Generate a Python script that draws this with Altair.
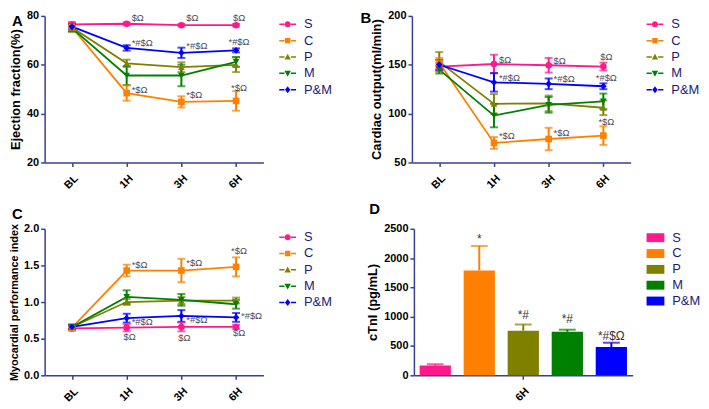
import altair as alt
import pandas as pd

groups = ["S", "C", "P", "M", "P&M"]
times = ["BL", "1H", "3H", "6H"]
colors = ["#ff1a8c", "#ff8000", "#808000", "#008000", "#0000ff"]
marker_shapes = ["circle", "square", "triangle-up", "triangle-down", "diamond"]

# ---- Panel A: Ejection fraction (%) ----
ef_mean = {
    "S": [76.5, 76.8, 76.2, 76.2],
    "C": [75.3, 48.4, 44.8, 45.2],
    "P": [75.3, 60.6, 59.0, 60.0],
    "M": [75.0, 55.6, 55.6, 61.2],
    "P&M": [75.6, 66.9, 64.9, 65.9],
}
ef_sem = {
    "S": [1.0, 0.6, 0.5, 0.5],
    "C": [1.5, 3.1, 2.3, 4.0],
    "P": [1.5, 1.5, 2.0, 3.0],
    "M": [1.5, 3.9, 4.4, 2.0],
    "P&M": [1.0, 1.1, 2.1, 0.8],
}
ef_ann_time = ["1H", "3H", "6H", "1H", "3H", "6H", "1H", "3H", "6H"]
ef_ann_y = [79.2, 79.2, 79.2, 68.8, 67.6, 69.2, 49.6, 47.6, 50.4]
ef_ann_text = ["$Ω", "$Ω", "$Ω", "*#$Ω", "*#$Ω", "*#$Ω", "*$Ω", "*$Ω", "*$Ω"]
ef_ann_pos = ["r", "r", "c", "r", "r", "c", "r", "r", "c"]

# ---- Panel B: Cardiac output (ml/min) ----
co_mean = {
    "S": [148.0, 150.8, 149.5, 148.2],
    "C": [152.0, 70.0, 74.0, 77.5],
    "P": [153.0, 110.0, 110.5, 106.0],
    "M": [145.0, 98.0, 109.0, 112.5],
    "P&M": [150.0, 132.0, 130.5, 128.0],
}
co_sem = {
    "S": [4.0, 9.5, 7.5, 4.0],
    "C": [5.0, 6.0, 11.5, 9.5],
    "P": [10.0, 10.0, 8.0, 7.5],
    "M": [4.0, 12.0, 8.0, 8.0],
    "P&M": [5.0, 9.5, 5.5, 3.0],
}
co_ann_time = ["1H", "3H", "6H", "1H", "3H", "6H", "1H", "3H", "6H"]
co_ann_y = [155.0, 154.0, 157.7, 136.0, 135.0, 136.3, 77.3, 80.0, 91.7]
co_ann_text = ["$Ω", "$Ω", "$Ω", "*#$Ω", "*#$Ω", "*#$Ω", "*$Ω", "*$Ω", "*$Ω"]
co_ann_pos = ["r", "r", "c", "r", "r", "c", "r", "r", "c"]

# ---- Panel C: Myocardial performance index ----
mpi_mean = {
    "S": [0.64, 0.65, 0.66, 0.66],
    "C": [0.65, 1.43, 1.43, 1.48],
    "P": [0.66, 1.00, 1.02, 1.02],
    "M": [0.66, 1.07, 1.03, 0.97],
    "P&M": [0.66, 0.78, 0.81, 0.79],
}
mpi_sem = {
    "S": [0.03, 0.05, 0.06, 0.03],
    "C": [0.03, 0.08, 0.16, 0.13],
    "P": [0.03, 0.04, 0.05, 0.04],
    "M": [0.03, 0.09, 0.08, 0.06],
    "P&M": [0.03, 0.06, 0.08, 0.06],
}
mpi_ann_time = ["1H", "3H", "6H", "1H", "3H", "6H", "1H", "3H", "6H"]
mpi_ann_y = [1.51, 1.53, 1.69, 0.724, 0.756, 0.813, 0.52, 0.51, 0.578]
mpi_ann_text = ["*$Ω", "*$Ω", "*$Ω", "*#$Ω", "*#$Ω", "*#$Ω", "$Ω", "$Ω", "$Ω"]
mpi_ann_pos = ["r", "r", "c", "r", "r", "r", "c", "c", "c"]

# ---- Panel D: cTnI (pg/mL) at 6H ----
ctni_mean = [167, 1789, 761, 744, 483]
ctni_sem = [22, 417, 106, 34, 73]
ctni_ann_group = ["C", "P", "M", "P&M"]
ctni_ann_y = [2333, 1022, 955, 678]
ctni_ann_text = ["*", "*#", "*#", "*#$Ω"]

AX = "#3a3f96"
LEG_TXT = "#1a1a7a"
ANN = "#4a4a5a"

# legend symbols: short line with the marker in the middle
_ll = "M-1,-0.09H-0.38V0.09H-1Z M0.38,-0.09H1V0.09H0.38Z "
legend_paths = [
    _ll + "M0.36,0A0.36,0.36 0 1,1 -0.36,0A0.36,0.36 0 1,1 0.36,0Z",
    _ll + "M-0.32,-0.32H0.32V0.32H-0.32Z",
    _ll + "M0,-0.4L0.38,0.3H-0.38Z",
    _ll + "M0,0.4L0.38,-0.3H-0.38Z",
    _ll + "M0,-0.42L0.32,0L0,0.42L-0.32,0Z",
]

W, H = 221, 148


def line_legend():
    return alt.Legend(title=None, orient="right", offset=16, symbolSize=289,
                      symbolStrokeWidth=0, labelFontSize=13, labelColor=LEG_TXT,
                      labelFont="Arial", labelOffset=8, rowPadding=0.5, padding=0)


def line_panel(mean, sem, a_time, a_y, a_text, a_pos, ytitle, ydom, yvals, yfmt,
               letter, title_size, lx, ly):
    rows = [dict(group=g, time=t, mean=mean[g][i], sem=sem[g][i])
            for g in groups for i, t in enumerate(times)]
    df = pd.DataFrame(rows)
    ann = pd.DataFrame({"time": a_time, "y": a_y, "text": a_text, "pos": a_pos})

    x = alt.X("time:N", sort=times, title=None,
              scale=alt.Scale(type="point", padding=0.5),
              axis=alt.Axis(labelAngle=-45, labelPadding=6))

    def Y(f):
        return alt.Y(f + ":Q", title=ytitle,
                     scale=alt.Scale(domain=ydom, nice=False, zero=False),
                     axis=alt.Axis(values=yvals, format=yfmt, titleFontSize=title_size))

    col = alt.Color("group:N", scale=alt.Scale(domain=groups, range=colors), legend=None)
    base = alt.Chart(df)
    err = base.transform_calculate(lo="datum.mean - datum.sem", hi="datum.mean + datum.sem")

    lines = base.mark_line(strokeWidth=1.8).encode(x=x, y=Y("mean"), color=col)
    rules = err.mark_rule(strokeWidth=2).encode(x=x, y=Y("lo"), y2="hi:Q", color=col)
    cap_lo = err.mark_tick(size=8, thickness=2).encode(x=x, y=Y("lo"), color=col)
    cap_hi = err.mark_tick(size=8, thickness=2).encode(x=x, y=Y("hi"), color=col)
    pts = base.mark_point(filled=True, size=45, opacity=1).encode(
        x=x, y=Y("mean"), color=col,
        shape=alt.Shape("group:N", scale=alt.Scale(domain=groups, range=marker_shapes), legend=None))
    ann_base = alt.Chart(ann)
    txt_r = ann_base.transform_filter("datum.pos == 'r'").mark_text(
        align="left", baseline="middle", dx=5, fontSize=9.5, color=ANN, font="Arial").encode(
        x=x, y=Y("y"), text="text:N")
    txt_c = ann_base.transform_filter("datum.pos == 'c'").mark_text(
        align="center", baseline="middle", dx=3, fontSize=9.5, color=ANN, font="Arial").encode(
        x=x, y=Y("y"), text="text:N")
    leg = base.transform_filter("false").mark_point(filled=True, opacity=1).encode(
        x=x, y=Y("mean"),
        color=alt.Color("group:N", scale=alt.Scale(domain=groups, range=colors), legend=line_legend()),
        shape=alt.Shape("group:N", scale=alt.Scale(domain=groups, range=legend_paths), legend=line_legend()))
    lab = alt.Chart(pd.DataFrame({"t": [letter]})).mark_text(
        align="left", baseline="top", fontSize=15, fontWeight="bold", font="Arial", color="black").encode(
        text="t:N", x=alt.value(lx), y=alt.value(ly))
    return alt.layer(lines, rules, cap_lo, cap_hi, pts, txt_r, txt_c, leg, lab).resolve_scale(
        color="independent", shape="independent").properties(width=W, height=H)


pA = line_panel(ef_mean, ef_sem, ef_ann_time, ef_ann_y, ef_ann_text, ef_ann_pos,
                "Ejection fraction(%)", [20, 80], [20, 40, 60, 80], "d", "A", 13, -33, -2)
pB = line_panel(co_mean, co_sem, co_ann_time, co_ann_y, co_ann_text, co_ann_pos,
                "Cardiac output(ml/min)", [50, 200], [50, 100, 150, 200], "d", "B", 13, -52, -5)
pC = line_panel(mpi_mean, mpi_sem, mpi_ann_time, mpi_ann_y, mpi_ann_text, mpi_ann_pos,
                "Myocardial performance index", [0, 2], [0, 0.5, 1.0, 1.5, 2.0], ".1f", "C", 11, -33, -22)

# ---- Panel D ----
d_df = pd.DataFrame({"group": groups, "time": ["6H"] * 5, "mean": ctni_mean, "sem": ctni_sem})
d_ann = pd.DataFrame({"group": ctni_ann_group, "time": ["6H"] * 4, "y": ctni_ann_y, "text": ctni_ann_text})
dx_enc = alt.X("time:N", title=None, scale=alt.Scale(paddingInner=0, paddingOuter=0),
               axis=alt.Axis(labelAngle=-45, labelPadding=6))
dxo = alt.XOffset("group:N", sort=groups,
                  scale=alt.Scale(domain=groups, paddingInner=0.29, paddingOuter=0.13))


def DY(f):
    return alt.Y(f + ":Q", title="cTnI (pg/mL)", scale=alt.Scale(domain=[0, 2500], nice=False),
                 axis=alt.Axis(values=[0, 500, 1000, 1500, 2000, 2500], format="d"))


dcol = alt.Color("group:N", scale=alt.Scale(domain=groups, range=colors), legend=None)
dbase = alt.Chart(d_df)
derr = dbase.transform_calculate(hi="datum.mean + datum.sem")
d_rule = derr.mark_rule(strokeWidth=2).encode(x=dx_enc, xOffset=dxo, y=DY("mean"), y2="hi:Q", color=dcol)
d_cap = derr.mark_tick(size=17, thickness=2).encode(x=dx_enc, xOffset=dxo, y=DY("hi"), color=dcol)
d_bars = dbase.mark_bar().encode(
    x=dx_enc, xOffset=dxo, y=DY("mean"),
    color=alt.Color("group:N", scale=alt.Scale(domain=groups, range=colors),
                    legend=alt.Legend(title=None, orient="right", offset=14,
                                      symbolType="M-1,-0.5H1V0.5H-1Z", symbolSize=324,
                                      symbolStrokeWidth=0, labelFontSize=13, labelColor=LEG_TXT,
                                      labelFont="Arial", labelOffset=8, rowPadding=0, padding=0)))
d_txt = alt.Chart(d_ann).mark_text(align="center", baseline="middle", fontSize=12,
                                   color="#333333", font="Arial").encode(
    x=dx_enc, xOffset=dxo, y=DY("y"), text="text:N")
d_lab = alt.Chart(pd.DataFrame({"t": ["D"]})).mark_text(
    align="left", baseline="top", fontSize=15, fontWeight="bold", font="Arial", color="black").encode(
    text="t:N", x=alt.value(-45), y=alt.value(-27))
pD = alt.layer(d_rule, d_cap, d_bars, d_txt, d_lab).resolve_scale(color="independent").properties(
    width=W, height=H)

row1 = alt.hconcat(pA, pB, spacing=28).resolve_scale(color="independent", shape="independent")
row2 = alt.hconcat(pC, pD, spacing=34).resolve_scale(color="independent", shape="independent")

chart = alt.vconcat(row1, row2, spacing=11).resolve_scale(
    color="independent", shape="independent"
).properties(padding=0).configure_view(stroke=None).configure_axis(
    domainColor=AX, tickColor=AX, domainWidth=1.5, tickWidth=1.5, tickSize=4,
    labelColor="black", labelFont="Arial", labelFontWeight="bold", labelFontSize=11,
    titleFont="Arial", titleFontWeight="bold", titleColor="black", titleFontSize=13, grid=False,
)

chart.save("out.html", embed_options={"renderer": "svg", "actions": False})
